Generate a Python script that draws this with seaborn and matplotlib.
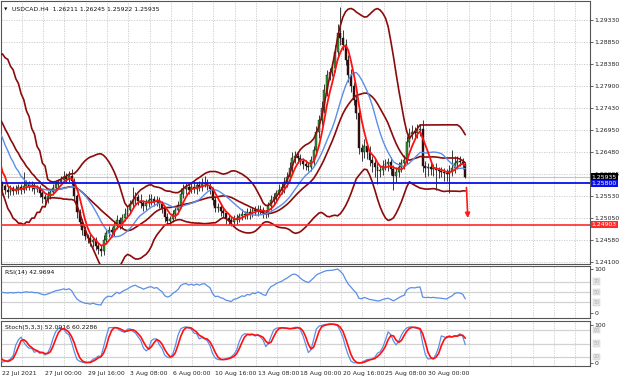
import numpy as np
import pandas as pd
import matplotlib
matplotlib.use("Agg")
import matplotlib.pyplot as plt
import seaborn as sns

sns.set_style("white")
plt.rcParams['font.family'] = ['DejaVu Sans']

# ---- data (USDCAD H4) ----
# closes before the first visible bar, estimated from where the bands and RSI start
warmup_close = [1.2775, 1.2815, 1.2770, 1.2810, 1.2760, 1.2800, 1.2745, 1.2785, 1.2730, 1.2765,
                1.2705, 1.2745, 1.2680, 1.2720, 1.2650, 1.2690, 1.2620, 1.2660, 1.2590, 1.2580]
warmup_hi_wick = [10, 12, 8, 9, 11, 7, 10, 9, 8, 12, 9, 10, 8, 11, 9, 7, 10, 8, 9, 8]
warmup_lo_wick = [9, 8, 11, 10, 7, 9, 12, 8, 10, 9, 11, 8, 9, 10, 12, 9, 8, 10, 9, 7]

close = [1.2574, 1.2566, 1.2561, 1.2570, 1.2563, 1.2568, 1.2572, 1.2566, 1.2574, 1.2579,
         1.2572, 1.2576, 1.2568, 1.2570, 1.2559, 1.2550, 1.2546, 1.2553, 1.2561, 1.2570,
         1.2579, 1.2583, 1.2587, 1.2594, 1.2589, 1.2596, 1.2585, 1.2553, 1.2518, 1.2496,
         1.2479, 1.2466, 1.2462, 1.2453, 1.2458, 1.2445, 1.2438, 1.2434, 1.2458, 1.2473,
         1.2479, 1.2475, 1.2488, 1.2501, 1.2492, 1.2505, 1.2514, 1.2522, 1.2535, 1.2544,
         1.2550, 1.2542, 1.2538, 1.2531, 1.2538, 1.2544, 1.2546, 1.2540, 1.2544, 1.2535,
         1.2527, 1.2507, 1.2499, 1.2503, 1.2514, 1.2522, 1.2533, 1.2557, 1.2568, 1.2572,
         1.2566, 1.2572, 1.2568, 1.2576, 1.2572, 1.2579, 1.2581, 1.2574, 1.2568, 1.2544,
         1.2527, 1.2529, 1.2520, 1.2516, 1.2505, 1.2501, 1.2496, 1.2503, 1.2505, 1.2509,
         1.2514, 1.2512, 1.2518, 1.2516, 1.2522, 1.2520, 1.2525, 1.2522, 1.2516, 1.2514,
         1.2531, 1.2544, 1.2550, 1.2559, 1.2566, 1.2572, 1.2583, 1.2594, 1.2613, 1.2635,
         1.2639, 1.2635, 1.2628, 1.2622, 1.2618, 1.2615, 1.2630, 1.2652, 1.2691, 1.2717,
         1.2743, 1.2782, 1.2814, 1.2821, 1.2829, 1.2864, 1.2905, 1.2894, 1.2879, 1.2847,
         1.2814, 1.2790, 1.2760, 1.2732, 1.2656, 1.2648, 1.2661, 1.2648, 1.2630, 1.2624,
         1.2615, 1.2607, 1.2609, 1.2618, 1.2622, 1.2626, 1.2611, 1.2596, 1.2605, 1.2615,
         1.2624, 1.2630, 1.2669, 1.2687, 1.2691, 1.2689, 1.2695, 1.2697, 1.2618, 1.2613,
         1.2615, 1.2611, 1.2613, 1.2609, 1.2607, 1.2605, 1.2602, 1.2600, 1.2607, 1.2613,
         1.2624, 1.2628, 1.2626, 1.26211, 1.25935]

# wick lengths in pips above / below the candle body
hi_wick = [6, 5, 8, 7, 5, 9, 6, 7, 30, 8, 6, 9, 5, 7, 6, 5, 8, 10, 7, 9,
           8, 7, 9, 12, 8, 10, 14, 6, 5, 7, 6, 8, 5, 9, 6, 7, 5, 8, 10, 6,
           9, 7, 8, 10, 6, 9, 12, 8, 10, 28, 12, 8, 15, 7, 9, 14, 10, 6, 8, 7,
           6, 5, 8, 7, 9, 10, 8, 12, 10, 9, 11, 8, 10, 7, 9, 12, 14, 8, 6, 5,
           7, 9, 6, 8, 5, 7, 6, 9, 8, 7, 10, 6, 9, 8, 7, 10, 8, 9, 6, 7,
           8, 10, 9, 7, 12, 9, 10, 11, 14, 12, 10, 9, 8, 7, 9, 8, 10, 9, 12, 10,
           14, 12, 11, 9, 13, 15, 20, 55, 18, 12, 10, 14, 9, 11, 12, 10, 15, 9, 12, 8,
           10, 8, 9, 12, 10, 9, 11, 8, 10, 12, 9, 11, 14, 12, 16, 10, 14, 12, 20, 10,
           8, 12, 9, 10, 7, 8, 9, 10, 12, 39, 14, 10, 12, 9, 3]
lo_wick = [20, 8, 12, 6, 9, 7, 10, 8, 6, 9, 7, 8, 10, 6, 9, 12, 10, 8, 6, 7,
           5, 8, 6, 7, 9, 6, 8, 10, 12, 9, 10, 8, 12, 9, 11, 8, 10, 12, 9, 10,
           8, 12, 9, 7, 10, 8, 6, 9, 7, 8, 10, 9, 12, 10, 8, 9, 11, 8, 10, 9,
           12, 10, 9, 8, 7, 10, 9, 6, 8, 10, 9, 7, 8, 10, 9, 8, 7, 9, 12, 10,
           9, 8, 10, 9, 12, 10, 9, 8, 10, 9, 8, 10, 9, 12, 8, 9, 10, 8, 11, 9,
           7, 9, 8, 10, 9, 8, 12, 10, 9, 11, 10, 12, 9, 11, 10, 9, 8, 10, 9, 12,
           10, 12, 14, 11, 10, 9, 12, 14, 10, 12, 15, 12, 10, 14, 12, 20, 14, 16, 13, 20,
           22, 28, 14, 12, 10, 15, 12, 30, 14, 12, 10, 12, 9, 10, 12, 11, 10, 12, 14, 20,
           18, 14, 16, 43, 15, 12, 18, 14, 40, 12, 10, 12, 9, 10, 1]

time_ticks = [0, 16, 32, 48, 64, 80, 96, 112, 128, 144, 160]
time_labels = ["22 Jul 2021", "27 Jul 00:00", "29 Jul 16:00", "3 Aug 08:00", "6 Aug 00:00",
               "10 Aug 16:00", "13 Aug 08:00", "18 Aug 00:00", "20 Aug 16:00",
               "25 Aug 08:00", "30 Aug 00:00"]
price_ticks = [1.29330, 1.28850, 1.28380, 1.27900, 1.27430, 1.26950, 1.26480,
               1.26005, 1.25530, 1.25050, 1.24580, 1.24100]
support = 1.25800
target = 1.24903
last_price = 1.25935
header = "USDCAD.H4  1.26211 1.26245 1.25922 1.25935"
rsi_text = "RSI(14) 42.9694"
stoch_text = "Stoch(5,3,3) 52.0916 60.2286"

# ---- build OHLC + indicators ----
c = pd.Series(warmup_close + close, dtype=float)
idx = np.arange(len(c)) - len(warmup_close)
o = c.shift(1).fillna(c.iloc[0])
w_hi = np.array(warmup_hi_wick + hi_wick) * 1e-4
w_lo = np.array(warmup_lo_wick + lo_wick) * 1e-4
h = np.maximum(o, c) + w_hi
l = np.minimum(o, c) - w_lo
df = pd.DataFrame({'x': idx, 'o': o, 'h': h, 'l': l, 'c': c})

df['ma_fast'] = df.c.rolling(5).mean()
df['ma_slow'] = df.c.rolling(14).mean()
df['bb_mid'] = df.c.rolling(20).mean()
sd = df.c.rolling(20).std(ddof=0)
df['bb_up'] = df.bb_mid + 2 * sd
df['bb_dn'] = df.bb_mid - 2 * sd

d = df.c.diff()
gain = d.clip(lower=0).ewm(alpha=1 / 14, adjust=False).mean()
loss = (-d.clip(upper=0)).ewm(alpha=1 / 14, adjust=False).mean()
df['rsi'] = 100 - 100 / (1 + gain / loss)

ll = df.l.rolling(5).min()
hh = df.h.rolling(5).max()
df['k'] = 100 * (df.c - ll).rolling(3).sum() / (hh - ll).rolling(3).sum()
df['dd'] = df.k.rolling(3).mean()

vis = df[df.x >= -1]
bars = df[df.x >= 0]

# ---- figure ----
fig = plt.figure(figsize=(6.2, 3.83), dpi=100)
L, W = 1 / 620, 589 / 620
ax = fig.add_axes([L, 119 / 383, W, 263 / 383])
ax_rsi = fig.add_axes([L, 65 / 383, W, 52 / 383], sharex=ax)
ax_st = fig.add_axes([L, 17 / 383, W, 45 / 383], sharex=ax)

FS = 4.4
grid_kw = dict(color='#c9c9c9', linestyle=(0, (1.5, 1.5)), linewidth=0.6)
xmin, xmax = -0.56, 220.9

for a in (ax, ax_rsi, ax_st):
    a.set_xlim(xmin, xmax)
    for s in a.spines.values():
        s.set_color('#555555')
        s.set_linewidth(0.8)
    a.yaxis.tick_right()
    a.tick_params(axis='y', labelsize=FS, length=2, width=0.5, pad=1, colors='#222222')
    a.tick_params(axis='x', length=0)
    for gx in range(0, 224, 8):
        a.axvline(gx - 0.7, zorder=0, **grid_kw)

# candles
up = bars[bars.c >= bars.o]
dn = bars[bars.c < bars.o]
ax.vlines(bars.x, bars.l, bars.h, color='#1b1b1b', linewidth=0.6, zorder=2)
ax.bar(up.x, (up.c - up.o).clip(lower=0.00004), bottom=up.o, width=0.72,
       color='#2f9a2f', edgecolor='#111111', linewidth=0.3, zorder=3)
ax.bar(dn.x, (dn.o - dn.c), bottom=dn.c, width=0.72,
       color='#3a0c0c', edgecolor='#111111', linewidth=0.3, zorder=3)

# bands and averages
for col in ('bb_up', 'bb_mid', 'bb_dn'):
    sns.lineplot(data=vis, x='x', y=col, ax=ax, color='#8b0a0a', linewidth=1.2, zorder=4)
sns.lineplot(data=vis, x='x', y='ma_slow', ax=ax, color='#5b8ee6', linewidth=1.0, zorder=5)
sns.lineplot(data=vis, x='x', y='ma_fast', ax=ax, color='#ff1010', linewidth=1.3, zorder=6)

ax.axhline(last_price, color='#c4c4c4', linewidth=0.8, zorder=1)
ax.axhline(support, color='#0a10e8', linewidth=1.3, zorder=7)
ax.axhline(target, color='#ff2a2a', linewidth=1.2, zorder=7)
ax.annotate('', xy=(175.0, 1.2499), xytext=(174.4, 1.2577),
            arrowprops=dict(arrowstyle='-|>', color='#ff1a1a', lw=1.2, mutation_scale=7),
            zorder=8)

ax.set_ylim(1.24057, 1.29740)
ax.set_yticks(price_ticks)
ax.set_yticklabels([f"{p:.5f}" for p in price_ticks])
for p in price_ticks:
    ax.axhline(p, zorder=0, **grid_kw)
for val, fc in ((last_price, '#000000'), (support, '#0a10e8'), (target, '#ff2a2a')):
    ax.text(1.003, val, f"{val:.5f}", transform=ax.get_yaxis_transform(), ha='left',
            va='center', fontsize=FS, color='white', clip_on=False, zorder=10,
            bbox=dict(boxstyle='square,pad=0.18', fc=fc, ec='none'))
ax.text(0.005, 0.966, "\u25BC", transform=ax.transAxes, fontsize=3.2, va='center', color='#111111')
ax.text(0.018, 0.966, header, transform=ax.transAxes, fontsize=FS, va='center', color='#111111')
ax.tick_params(axis='x', labelbottom=False)
ax.set_xlabel('')
ax.set_ylabel('')


def side_labels(a, top_val, top_pos, bot_pos, levels):
    a.set_yticks([top_pos, bot_pos])
    a.set_yticklabels([str(top_val), '0'])
    for lv in levels:
        a.axhline(lv, color='#d2d2d2', linewidth=0.9, zorder=1)
        a.text(1.006, lv, str(lv), transform=a.get_yaxis_transform(), fontsize=3.4,
               va='center', color='#aaaaaa', clip_on=False,
               bbox=dict(boxstyle='square,pad=0.15', fc='#e6e6e6', ec='#c8c8c8', lw=0.3))


# RSI
sns.lineplot(data=vis, x='x', y='rsi', ax=ax_rsi, color='#5b8ee6', linewidth=0.9, zorder=3)
ax_rsi.set_ylim(0, 100)
side_labels(ax_rsi, 100, 94, 9.6, (70, 50, 30))
ax_rsi.text(0.006, 0.88, rsi_text, transform=ax_rsi.transAxes, fontsize=FS, va='center',
            color='#111111')
ax_rsi.tick_params(axis='x', labelbottom=False)
ax_rsi.set_xlabel('')
ax_rsi.set_ylabel('')

# Stochastic
sns.lineplot(data=vis, x='x', y='k', ax=ax_st, color='#5b8ee6', linewidth=0.9, zorder=3)
sns.lineplot(data=vis, x='x', y='dd', ax=ax_st, color='#ff1010', linewidth=1.2, zorder=4)
ax_st.set_ylim(0, 100)
side_labels(ax_st, 100, 91, 6.7, (80, 50, 20))
ax_st.text(0.006, 0.86, stoch_text, transform=ax_st.transAxes, fontsize=FS, va='center',
           color='#111111')
ax_st.set_xticks(time_ticks)
ax_st.set_xticklabels(time_labels)
ax_st.tick_params(axis='x', labelsize=FS, length=2, width=0.5, pad=1.5, colors='#222222',
                  direction='out')
for lbl in ax_st.get_xticklabels():
    lbl.set_horizontalalignment('left')
ax_st.set_ylabel('')
ax_st.set_xlabel('')

fig.savefig('out.png', dpi=100, facecolor='white')
